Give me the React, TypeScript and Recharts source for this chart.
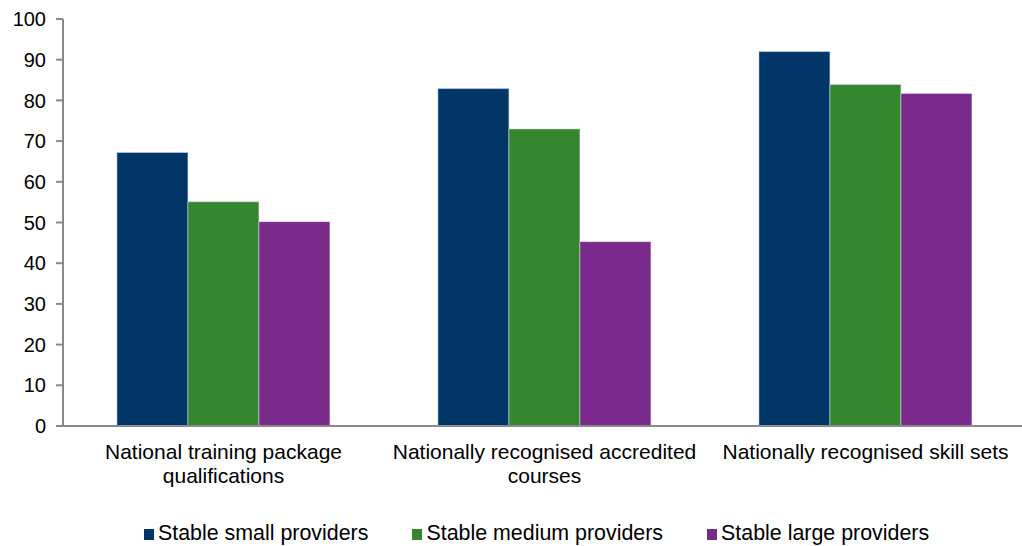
import React from "react";
import { BarChart, Bar, XAxis, YAxis, Legend } from "recharts";

const categories = [
  "National training package\nqualifications",
  "Nationally recognised accredited\ncourses",
  "Nationally recognised skill sets",
];
const smallProviders = [67.2, 82.9, 92.0];
const mediumProviders = [55.1, 73.0, 83.9];
const largeProviders = [50.2, 45.3, 81.7];
const yTicks = [0, 10, 20, 30, 40, 50, 60, 70, 80, 90, 100];

const seriesDefs = [
  { key: "small", name: "Stable small providers", color: "#023667" },
  { key: "medium", name: "Stable medium providers", color: "#35862E" },
  { key: "large", name: "Stable large providers", color: "#7A2A8B" },
];

const data = categories.map((c, i) => ({
  category: c,
  small: smallProviders[i],
  medium: mediumProviders[i],
  large: largeProviders[i],
}));

const FONT = '"Liberation Sans", Arial, sans-serif';

const CategoryTick = (props: any) => {
  const { x, y, payload } = props;
  const lines = String(payload.value).split("\n");
  return (
    <text
      x={x}
      y={y}
      textAnchor="middle"
      fill="#000"
      fontSize={21}
      fontFamily={FONT}
    >
      {lines.map((ln, i) => (
        <tspan key={i} x={x} y={y + 33 + i * 24}>
          {ln}
        </tspan>
      ))}
    </text>
  );
};

const LegendContent = () => (
  <div
    style={{
      display: "flex",
      alignItems: "center",
      paddingLeft: 144,
      height: 26,
      fontFamily: FONT,
      fontSize: 21.4,
      color: "#000",
    }}
  >
    {seriesDefs.map((s, i) => (
      <div
        key={s.key}
        style={{
          display: "flex",
          alignItems: "center",
          marginRight: i < seriesDefs.length - 1 ? 44 : 0,
        }}
      >
        <span
          style={{
            display: "inline-block",
            width: 10,
            height: 11,
            background: s.color,
            marginRight: 4,
            marginTop: 3,
          }}
        />
        <span style={{ whiteSpace: "nowrap" }}>{s.name}</span>
      </div>
    ))}
  </div>
);

export default function App() {
  return (
    <div
      style={{
        position: "absolute",
        left: 0,
        top: 0,
        width: 1022,
        height: 546,
        overflow: "hidden",
        background: "#fff",
      }}
    >
      <BarChart
        width={1026}
        height={546}
        data={data}
        margin={{ top: 19, right: 0, bottom: 0, left: 0 }}
        barCategoryGap="16.8%"
        barGap={0}
      >
        <XAxis
          dataKey="category"
          axisLine={{ stroke: "#8a8a8a", strokeWidth: 2 }}
          tickLine={false}
          tickSize={0}
          tickMargin={0}
          height={94}
          interval={0}
          tick={<CategoryTick />}
        />
        <YAxis
          width={63}
          domain={[0, 100]}
          ticks={yTicks}
          interval={0}
          axisLine={{ stroke: "#8a8a8a", strokeWidth: 2 }}
          tickLine={{ stroke: "#8a8a8a", strokeWidth: 2 }}
          tickSize={7}
          tickMargin={10}
          tick={{ fill: "#000", fontSize: 20, fontFamily: FONT }}
        />
        <Legend
          verticalAlign="bottom"
          height={26}
          content={<LegendContent />}
          wrapperStyle={{ left: 0, width: 1026 }}
        />
        {seriesDefs.map((s) => (
          <Bar
            key={s.key}
            dataKey={s.key}
            name={s.name}
            fill={s.color}
            stroke="rgba(210,222,240,0.7)"
            strokeWidth={0.8}
            isAnimationActive={false}
          />
        ))}
      </BarChart>
    </div>
  );
}
